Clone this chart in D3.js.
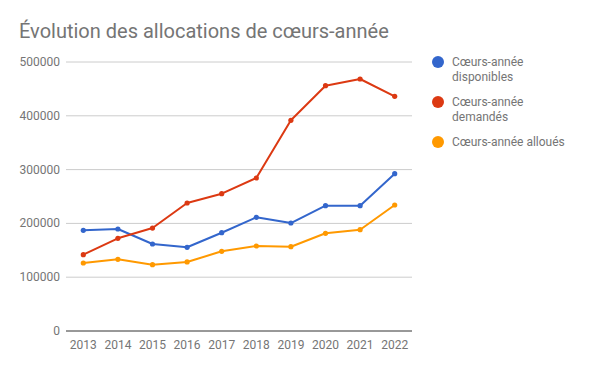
<!DOCTYPE html>
<html>
<head>
<meta charset="utf-8">
<script src="https://cdn.jsdelivr.net/npm/d3@7"></script>
<style>
  body { margin: 0; background: #fff; }
  svg { font-family: Roboto, "Noto Sans", sans-serif; }
</style>
</head>
<body>
<svg id="chart" width="600" height="371"></svg>
<script>
const years = ["2013", "2014", "2015", "2016", "2017", "2018", "2019", "2020", "2021", "2022"];
const disponibles = [187200, 189600, 161700, 155600, 182700, 211300, 200700, 232900, 232900, 292400];
const demandes = [141900, 172300, 191400, 237900, 255200, 284400, 391600, 456000, 468400, 436200];
const alloues = [126400, 133200, 123300, 128300, 148100, 158000, 156700, 181600, 188300, 234200];
const yTicks = [0, 100000, 200000, 300000, 400000, 500000];

const series = [
  { name: ["Cœurs-année", "disponibles"], values: disponibles, color: "#3366cc" },
  { name: ["Cœurs-année", "demandés"], values: demandes, color: "#dc3912" },
  { name: ["Cœurs-année alloués"], values: alloues, color: "#ff9900" }
];

const svg = d3.select("#chart");
const plotLeft = 66, plotRight = 412, plotTop = 62, plotBottom = 331;

const x = d3.scaleBand().domain(years).range([plotLeft, plotRight]);
const y = d3.scaleLinear().domain([0, 500000]).range([plotBottom, plotTop]);

svg.append("text")
  .attr("x", 19).attr("y", 38)
  .attr("font-size", "20px")
  .attr("fill", "#757575")
  .text("Évolution des allocations de cœurs-année");

// grid
svg.append("g").selectAll("line")
  .data(yTicks.filter(d => d > 0))
  .enter().append("line")
  .attr("x1", plotLeft).attr("x2", plotRight)
  .attr("y1", d => y(d)).attr("y2", d => y(d))
  .attr("stroke", "#cccccc").attr("stroke-width", 1);

svg.append("g").selectAll("text")
  .data(yTicks)
  .enter().append("text")
  .attr("x", 60).attr("y", d => y(d) + 4)
  .attr("text-anchor", "end")
  .attr("font-size", "12px")
  .attr("fill", "#757575")
  .text(d => d);

svg.append("g").selectAll("text")
  .data(years)
  .enter().append("text")
  .attr("x", d => x(d) + x.bandwidth() / 2)
  .attr("y", 349)
  .attr("text-anchor", "middle")
  .attr("font-size", "12px")
  .attr("fill", "#757575")
  .text(d => d);

const line = d3.line()
  .x((d, i) => x(years[i]) + x.bandwidth() / 2)
  .y(d => y(d));

series.forEach(s => {
  svg.append("path")
    .datum(s.values)
    .attr("fill", "none")
    .attr("stroke", s.color)
    .attr("stroke-width", 2)
    .attr("stroke-linejoin", "round")
    .attr("d", line);

  svg.append("g").selectAll("circle")
    .data(s.values)
    .enter().append("circle")
    .attr("cx", (d, i) => x(years[i]) + x.bandwidth() / 2)
    .attr("cy", d => y(d))
    .attr("r", 2.6)
    .attr("fill", s.color);
});

// baseline
svg.append("line")
  .attr("x1", plotLeft).attr("x2", plotRight)
  .attr("y1", y(0)).attr("y2", y(0))
  .attr("stroke", "#333333").attr("stroke-width", 1);

// legend
const legend = svg.append("g");
series.forEach((s, i) => {
  const ly = 62 + i * 40;
  legend.append("circle")
    .attr("cx", 438).attr("cy", ly)
    .attr("r", 6)
    .attr("fill", s.color);
  const t = legend.append("text")
    .attr("x", 452).attr("y", ly + 4)
    .attr("font-size", "12px")
    .attr("fill", "#757575");
  s.name.forEach((n, j) => {
    t.append("tspan").attr("x", 452).attr("dy", j === 0 ? 0 : 15).text(n);
  });
});
</script>
</body>
</html>
